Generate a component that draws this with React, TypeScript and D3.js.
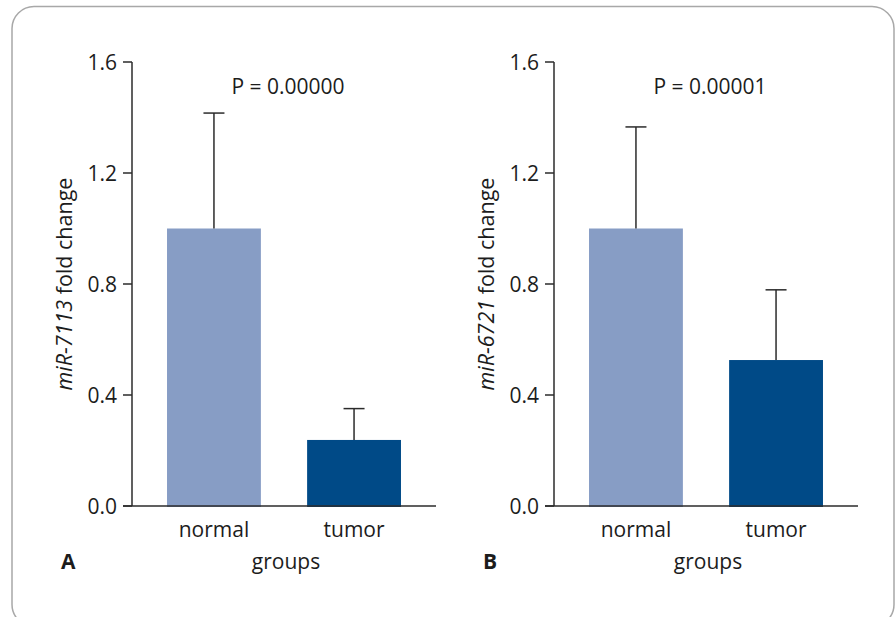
import * as d3 from 'd3';

const categories = ['normal', 'tumor'];
const panelLetters = ['A', 'B'];
const geneNames = ['miR-7113', 'miR-6721'];
const pLabels = ['P = 0.00000', 'P = 0.00001'];
const meansA = [1.0, 0.238];
const errorsA = [0.416, 0.113];
const meansB = [1.0, 0.526];
const errorsB = [0.366, 0.253];
const yTicks = [0, 0.4, 0.8, 1.2, 1.6];

const panels = [
  { letter: panelLetters[0], gene: geneNames[0], p: pLabels[0], means: meansA, errors: errorsA },
  { letter: panelLetters[1], gene: geneNames[1], p: pLabels[1], means: meansB, errors: errorsB },
];

const WIDTH = 896;
const HEIGHT = 617;
const FONT = '"Open Sans", "DejaVu Sans", sans-serif';
const FS = 21;
const TEXT = '#1c1c1c';
const AXIS = '#2b2b2b';
const barColors = ['#879dc5', '#004a87'];

const panelX = [132, 554];
const plotWidth = 304;

const y = d3.scaleLinear().domain([0, 1.6]).range([506, 62]);
const x = d3
  .scaleBand<string>()
  .domain(categories)
  .range([0, plotWidth])
  .paddingInner(0.33)
  .paddingOuter(0.25);

function Panel({ panel, left }: { panel: (typeof panels)[number]; left: number }) {
  const y0 = y(0);
  const bw = x.bandwidth();
  return (
    <g transform={`translate(${left},0)`}>
      {/* bars */}
      {categories.map((c, i) => (
        <rect
          key={c}
          x={x(c)}
          y={y(panel.means[i])}
          width={bw}
          height={y0 - y(panel.means[i]) + 1}
          fill={barColors[i]}
        />
      ))}
      {/* error bars */}
      {categories.map((c, i) => {
        const cx = (x(c) || 0) + bw / 2;
        const top = y(panel.means[i] + panel.errors[i]);
        return (
          <g key={c} stroke={AXIS} strokeWidth={1.5}>
            <line x1={cx} x2={cx} y1={y(panel.means[i])} y2={top} />
            <line x1={cx - 10.5} x2={cx + 10.5} y1={top} y2={top} />
          </g>
        );
      })}
      {/* axes */}
      <line x1={0} x2={0} y1={y(1.6)} y2={y0} stroke={AXIS} strokeWidth={1.5} />
      <line x1={-9} x2={plotWidth} y1={y0} y2={y0} stroke={AXIS} strokeWidth={1.5} />
      {yTicks.map((t) => (
        <g key={t}>
          <line x1={-9} x2={0} y1={y(t)} y2={y(t)} stroke={AXIS} strokeWidth={1.5} />
          <text
            x={-15}
            y={y(t)}
            dy="0.36em"
            textAnchor="end"
            fontSize={FS}
            fill={TEXT}
            fontFamily={FONT}
          >
            {t.toFixed(1)}
          </text>
        </g>
      ))}
      {categories.map((c) => (
        <text
          key={c}
          x={(x(c) || 0) + bw / 2}
          y={y0 + 31}
          textAnchor="middle"
          fontSize={FS}
          fill={TEXT}
          fontFamily={FONT}
        >
          {c}
        </text>
      ))}
      <text x={plotWidth / 2 + 2} y={569} textAnchor="middle" fontSize={FS} fill={TEXT} fontFamily={FONT}>
        groups
      </text>
      <text x={-71} y={569} fontSize={FS} fontWeight="bold" fill={TEXT} fontFamily={FONT}>
        {panel.letter}
      </text>
      <text
        transform={`translate(-60,${(y(1.6) + y0) / 2}) rotate(-90)`}
        textAnchor="middle"
        fontSize={FS + 0.5}
        fill={TEXT}
        fontFamily={FONT}
      >
        <tspan fontStyle="italic">{panel.gene}</tspan>
        <tspan> fold change</tspan>
      </text>
      <text x={156} y={94} textAnchor="middle" fontSize={FS} fill={TEXT} fontFamily={FONT}>
        {panel.p}
      </text>
    </g>
  );
}

export default function App() {
  return (
    <svg
      width={WIDTH}
      height={HEIGHT}
      style={{ position: 'absolute', left: 0, top: 0, background: '#fff' }}
    >
      <rect x={0} y={0} width={WIDTH} height={HEIGHT} fill="#fff" />
      <rect
        x={12}
        y={6.5}
        width={882}
        height={620}
        rx={22}
        ry={22}
        fill="none"
        stroke="#a8a8a8"
        strokeWidth={1.5}
      />
      {panels.map((p, i) => (
        <Panel key={p.letter} panel={p} left={panelX[i]} />
      ))}
    </svg>
  );
}
